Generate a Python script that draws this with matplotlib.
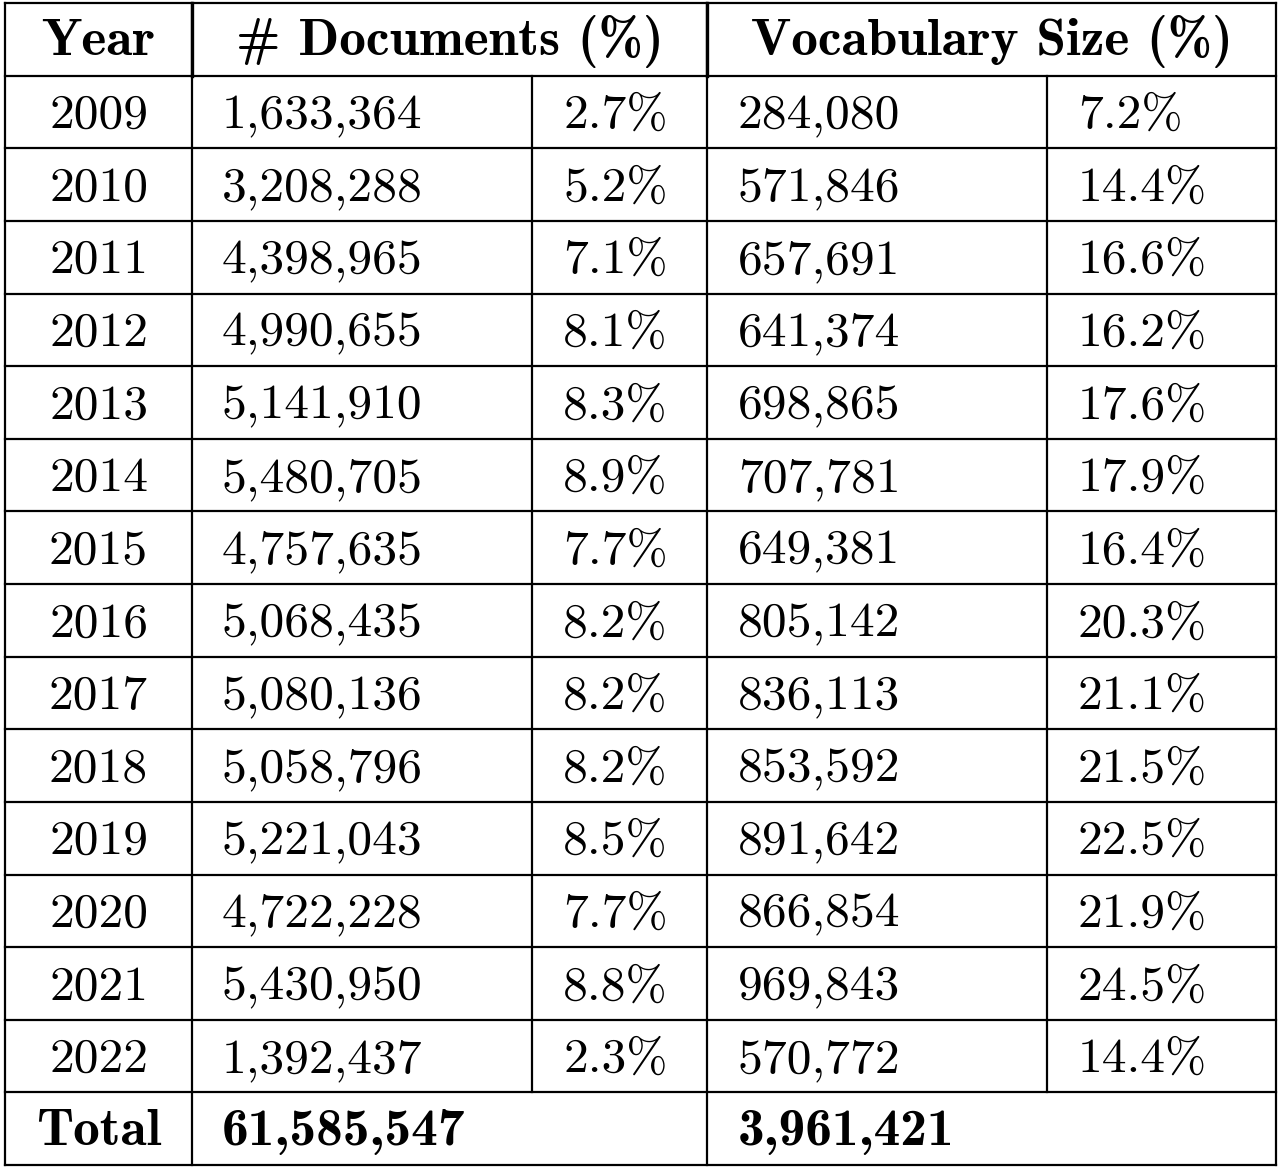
import matplotlib
matplotlib.use("Agg")
import matplotlib.pyplot as plt

years = ["2009", "2010", "2011", "2012", "2013", "2014", "2015",
         "2016", "2017", "2018", "2019", "2020", "2021", "2022"]
docs = ["1,633,364", "3,208,288", "4,398,965", "4,990,655", "5,141,910",
        "5,480,705", "4,757,635", "5,068,435", "5,080,136", "5,058,796",
        "5,221,043", "4,722,228", "5,430,950", "1,392,437"]
docs_pct = ["2.7%", "5.2%", "7.1%", "8.1%", "8.3%", "8.9%", "7.7%",
            "8.2%", "8.2%", "8.2%", "8.5%", "7.7%", "8.8%", "2.3%"]
vocab = ["284,080", "571,846", "657,691", "641,374", "698,865", "707,781",
         "649,381", "805,142", "836,113", "853,592", "891,642", "866,854",
         "969,843", "570,772"]
vocab_pct = ["7.2%", "14.4%", "16.6%", "16.2%", "17.6%", "17.9%", "16.4%",
             "20.3%", "21.1%", "21.5%", "22.5%", "21.9%", "24.5%", "14.4%"]
headers = ["Year", "# Documents (%)", "Vocabulary Size (%)"]
total_label = "Total"
total_docs = "61,585,547"
total_vocab = "3,961,421"

W, H = 1280, 1170
fig = plt.figure(figsize=(W / 100, H / 100), dpi=100)
ax = fig.add_axes([0, 0, 1, 1])
ax.set_xlim(0, W)
ax.set_ylim(H, 0)
ax.axis("off")

# table geometry (pixels)
left, right = 5, 1276
top, bottom = 3, 1165
x_year, x_docs, x_dpct, x_voc, x_vpct = 192, 532, 707, 1047, 1276
n_rows = len(years) + 2
row_h = (bottom - top) / n_rows
row_y = [top + row_h * i for i in range(n_rows + 1)]

lw = 1.6
for y in row_y:
    ax.plot([left, right], [y, y], color="black", lw=lw, solid_capstyle="projecting")
ax.plot([left, left], [top, bottom], color="black", lw=lw)
ax.plot([right, right], [top, bottom], color="black", lw=lw)
ax.plot([x_year, x_year], [top, bottom], color="black", lw=lw)
ax.plot([x_year, x_year], [top, row_y[1]], color="black", lw=2.4)
ax.plot([x_dpct, x_dpct], [top, bottom], color="black", lw=lw)
ax.plot([x_dpct, x_dpct], [top, row_y[1]], color="black", lw=2.4)
ax.plot([x_docs, x_docs], [row_y[1], row_y[-2]], color="black", lw=lw)
ax.plot([x_voc, x_voc], [row_y[1], row_y[-2]], color="black", lw=lw)

# computer modern, bold face is narrower than cmbx so bump its size
reg = dict(family="cmr10", fontsize=35.7, va="baseline")
bold = dict(family="cmb10", fontsize=38.5, va="baseline")
off = 16

def base(i):
    return (row_y[i] + row_y[i + 1]) / 2 + off

ax.text((left + x_year) / 2, base(0), headers[0], ha="center", **bold)
ax.text((x_year + x_dpct) / 2, base(0), headers[1], ha="center", **bold)
ax.text((x_dpct + right) / 2, base(0), headers[2], ha="center", **bold)

for i in range(len(years)):
    b = base(i + 1)
    ax.text((left + x_year) / 2, b, years[i], ha="center", **reg)
    ax.text(x_year + 30, b, docs[i], ha="left", **reg)
    ax.text(x_docs + 31, b, docs_pct[i], ha="left", **reg)
    ax.text(x_dpct + 31, b, vocab[i], ha="left", **reg)
    ax.text(x_voc + 31, b, vocab_pct[i], ha="left", **reg)

b = base(n_rows - 1)
ax.text((left + x_year) / 2, b, total_label, ha="center", **bold)
ax.text(x_year + 30, b, total_docs, ha="left", **bold)
ax.text(x_dpct + 31, b, total_vocab, ha="left", **bold)

fig.savefig("out.png", dpi=100, facecolor="white")
